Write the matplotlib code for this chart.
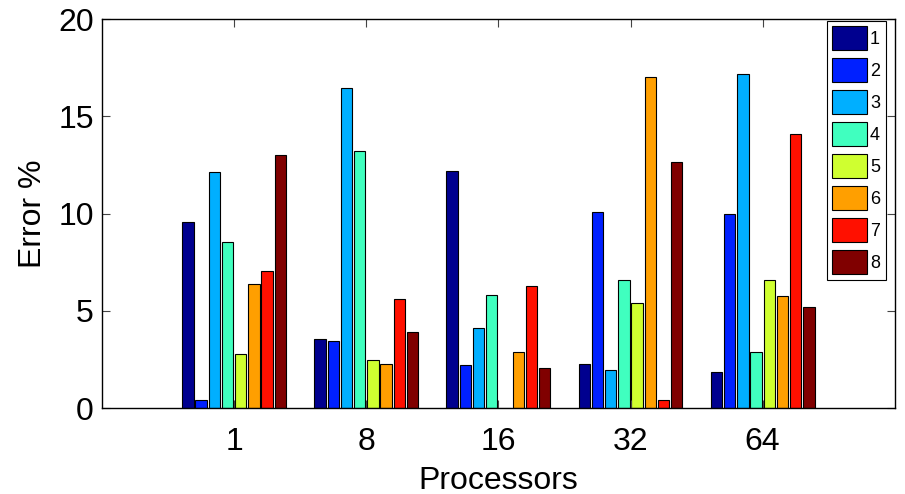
import numpy as np
import matplotlib
matplotlib.use("Agg")
import matplotlib.pyplot as plt

plt.rcParams['font.family'] = ['Liberation Sans', 'DejaVu Sans']

groups = ['1', '8', '16', '32', '64']
series_names = ['1', '2', '3', '4', '5', '6', '7', '8']
s1 = [9.55, 3.55, 12.20, 2.28, 1.87]
s2 = [0.43, 3.44, 2.21, 10.06, 9.96]
s3 = [12.15, 16.44, 4.10, 1.94, 17.15]
s4 = [8.55, 13.21, 5.81, 6.56, 2.90]
s5 = [2.76, 2.45, 0.00, 5.40, 6.56]
s6 = [6.36, 2.24, 2.86, 17.02, 5.74]
s7 = [7.04, 5.60, 6.26, 0.39, 14.10]
s8 = [13.03, 3.93, 2.07, 12.63, 5.19]
series = [s1, s2, s3, s4, s5, s6, s7, s8]


def matlab_jet64(k):
    # k: 1-based row of MATLAB's jet(64)
    r = np.clip(min((k - 24) / 16.0, (72 - k) / 16.0), 0, 1)
    g = np.clip(min((k - 8) / 16.0, (56 - k) / 16.0), 0, 1)
    b = np.clip(min((k + 8) / 16.0, (40 - k) / 16.0), 0, 1)
    return (r, g, b)


n = len(series)
rows = [int(round(1 + i * 63 / (n - 1))) for i in range(n)]
colors = [matlab_jet64(k) for k in rows]

fig = plt.figure(figsize=(9.05, 4.94), dpi=100)
ax = fig.add_axes([0.1127, 0.174, 0.876, 0.7875])

x = np.arange(1, len(groups) + 1)
slot = 0.1
for i, vals in enumerate(series):
    offs = (i - (n - 1) / 2) * slot
    ax.bar(x + offs, vals, width=0.086, color=colors[i], edgecolor='black',
           linewidth=0.8, label=series_names[i])

ax.set_xlim(0, 6)
ax.set_ylim(0, 20)
ax.set_xticks(x)
ax.set_xticklabels(groups)
ax.set_yticks([0, 5, 10, 15, 20])
ax.tick_params(direction='in', length=6, width=0.8, labelsize=23, top=True, right=True,
               color='#444444')
ax.tick_params(axis='x', pad=14)
ax.tick_params(axis='y', pad=6)
for sp in ax.spines.values():
    sp.set_linewidth(1.0)
ax.set_ylabel('Error %', fontsize=23, labelpad=7)
ax.set_xlabel('Processors', fontsize=23, labelpad=6)

leg = ax.legend(loc='upper right', bbox_to_anchor=(0.9885, 0.995), fontsize=13,
                handlelength=1.95, handleheight=1.67, labelspacing=0.44,
                handletextpad=0.15, borderpad=0.3, borderaxespad=0,
                fancybox=False, framealpha=1, edgecolor='black')
leg.get_frame().set_linewidth(0.8)

fig.savefig('out.png', dpi=100)
